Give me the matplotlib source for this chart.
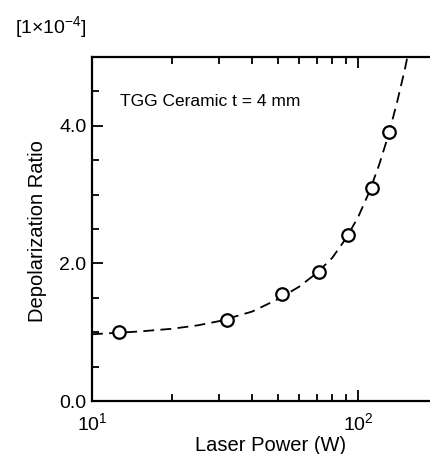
"""Depolarization ratio vs laser power, TGG ceramic."""
import matplotlib
matplotlib.use("Agg")
import matplotlib.pyplot as plt
from matplotlib.ticker import MultipleLocator, FixedLocator, LogLocator, NullFormatter

plt.rcParams["font.family"] = ["Liberation Sans", "DejaVu Sans"]
plt.rcParams["mathtext.fontset"] = "custom"
plt.rcParams["mathtext.rm"] = "Liberation Sans"
plt.rcParams["mathtext.it"] = "Liberation Sans:italic"

# measured points (W, x1e-4)
power = [12.6, 32.1, 51.6, 71.6, 91.9, 112.6, 131.2]
depol = [1.00, 1.18, 1.55, 1.87, 2.42, 3.10, 3.91]

# dashed fit curve
fit_power = [10, 15, 20, 25, 30, 40, 50, 60, 70, 80, 90, 100, 110, 120, 130, 140, 150, 160]
fit_depol = [0.97, 1.01, 1.05, 1.10, 1.16, 1.30, 1.48, 1.66, 1.86, 2.08, 2.36, 2.67,
             3.03, 3.43, 3.86, 4.33, 4.82, 5.35]

x_major = [10, 100]
y_major = [0, 2, 4]
y_labels = ["0.0", "2.0", "4.0"]

W, H = 430, 454
fig = plt.figure(figsize=(W / 100, H / 100), dpi=100)

# axes runs past the right edge of the figure (cropped panel)
left, right, bottom, top = 92, 624, 401, 57
ax = fig.add_axes([left / W, 1 - bottom / H, (right - left) / W, (bottom - top) / H])

ax.plot(fit_power, fit_depol, color="black", lw=1.3, ls=(0, (6, 3.5)), zorder=2)
ax.plot(power, depol, ls="none", marker="o", ms=9, mfc="white", mec="black", mew=1.6, zorder=3)

ax.set_xscale("log")
ax.set_xlim(10, 1000)
ax.set_ylim(0, 5)

ax.yaxis.set_major_locator(FixedLocator(y_major))
ax.yaxis.set_minor_locator(MultipleLocator(0.5))
ax.set_yticklabels(y_labels)
ax.xaxis.set_major_locator(FixedLocator(x_major))
ax.set_xticklabels([r"10$^{1}$", r"10$^{2}$"])
ax.xaxis.set_minor_locator(LogLocator(base=10, subs=range(2, 10), numticks=20))
ax.xaxis.set_minor_formatter(NullFormatter())

for s in ax.spines.values():
    s.set_linewidth(1.6)
ax.tick_params(which="both", direction="in", top=True, right=False, width=1.3, labelsize=14)
ax.tick_params(which="major", length=8)
ax.tick_params(which="minor", length=5)
ax.tick_params(axis="x", pad=8)
ax.tick_params(axis="y", pad=4)

ax.set_xlabel("Laser Power (W)", fontsize=14.5)
ax.xaxis.set_label_coords((271 - left) / (right - left), -(436 - bottom) / (bottom - top))
ax.set_ylabel("Depolarization Ratio", fontsize=14.5)
ax.yaxis.set_label_coords((47 - left) / (right - left), (bottom - 231) / (bottom - top))

ax.text((120 - left) / (right - left), (bottom - 102) / (bottom - top), "TGG Ceramic t = 4 mm",
        transform=ax.transAxes, fontsize=12.5, va="center", ha="left")

fig.text(15 / W, 1 - 27 / H, r"[1$\times$10$^{-4}$]", fontsize=14, va="center", ha="left")

fig.savefig("out.png", dpi=100)
